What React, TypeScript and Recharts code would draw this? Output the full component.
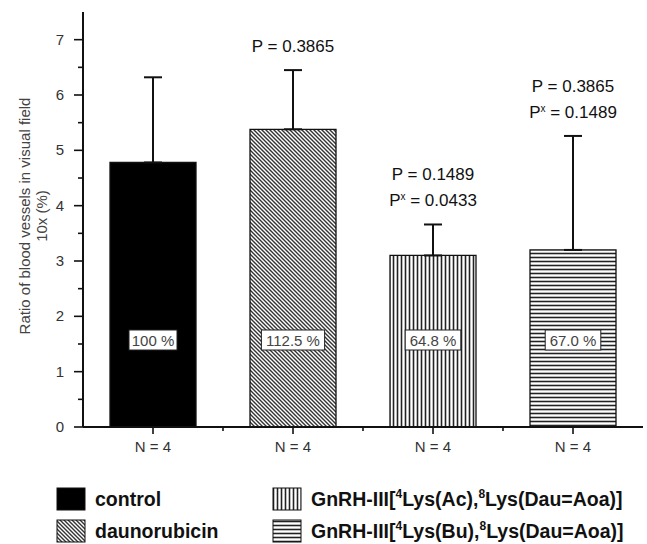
import React from 'react';
import { BarChart, Bar, XAxis, YAxis, ErrorBar, LabelList, Cell, Customized } from 'recharts';

const groupNames = [
  'control',
  'daunorubicin',
  'GnRH-III[^4Lys(Ac),^8Lys(Dau=Aoa)]',
  'GnRH-III[^4Lys(Bu),^8Lys(Dau=Aoa)]',
];
const groupPositions = [0.5, 1.5, 2.5, 3.5];
const meanRatio = [4.78, 5.38, 3.1, 3.2];
const errorUpper = [1.54, 1.07, 0.56, 2.06];
const percentLabels = ['100 %', '112.5 %', '64.8 %', '67.0 %'];
const sampleLabels = ['N = 4', 'N = 4', 'N = 4', 'N = 4'];
const pValueLines: string[][][] = [
  [],
  [['P', '0.3865']],
  [['P', '0.1489'], ['Px', '0.0433']],
  [['P', '0.3865'], ['Px', '0.1489']],
];
const yTicks = [0, 0.5, 1, 1.5, 2, 2.5, 3, 3.5, 4, 4.5, 5, 5.5, 6, 6.5, 7];
const xTicks = [0.5, 1, 1.5, 2, 2.5, 3, 3.5];
const yLabelLines = ['Ratio of blood vessels in visual field', '10x (%)'];

const FONT = '"Liberation Sans", Arial, sans-serif';
const FILLS = ['#000000', 'url(#hatchDiag)', 'url(#hatchVert)', 'url(#hatchHoriz)'];

const data = groupPositions.map((pos, i) => ({
  pos,
  mean: meanRatio[i],
  err: [0, errorUpper[i]],
  pct: percentLabels[i],
}));

const YTick = (props: any) => {
  const { x, y, payload } = props;
  const v = payload.value;
  const major = Number.isInteger(v);
  return (
    <g>
      <line x1={x - (major ? 9 : 5)} x2={x} y1={y} y2={y} stroke="#111" strokeWidth={1.6} />
      {major && (
        <text x={x - 19} y={y} dy={5} textAnchor="end" fontSize={15} fill="#333" fontFamily={FONT}>
          {v}
        </text>
      )}
    </g>
  );
};

const XTick = (props: any) => {
  const { x, y, payload } = props;
  const v = payload.value;
  const idx = groupPositions.indexOf(v);
  const major = idx >= 0;
  return (
    <g>
      <line x1={x} x2={x} y1={y} y2={y + (major ? 7 : 4)} stroke="#111" strokeWidth={1.6} />
      {major && (
        <text x={x} y={y + 25} textAnchor="middle" fontSize={15} fill="#333" fontFamily={FONT}>
          {sampleLabels[idx]}
        </text>
      )}
    </g>
  );
};

const getBox = (props: any) => {
  const vb = props.viewBox && props.viewBox.width !== undefined ? props.viewBox : props;
  return { x: Number(vb.x), y: Number(vb.y), width: Number(vb.width), height: Number(vb.height) };
};

const PLabel = (props: any) => {
  const { index } = props;
  const lines = pValueLines[index] || [];
  if (!lines.length) return null;
  const { x, y, width, height } = getBox(props);
  const perUnit = height / meanRatio[index];
  const errTop = y - errorUpper[index] * perUnit;
  const cx = x + width / 2;
  const last = errTop - 18;
  return (
    <g>
      {lines.map((ln, i) => (
        <text
          key={i}
          x={cx}
          y={last - (lines.length - 1 - i) * 26}
          textAnchor="middle"
          fontSize={17}
          fill="#111"
          fontFamily={FONT}
        >
          {ln[0] === 'Px' ? (
            <>
              <tspan>P</tspan>
              <tspan fontSize={10} dy={-6}>x</tspan>
              <tspan dy={6}>{` = ${ln[1]}`}</tspan>
            </>
          ) : (
            `P = ${ln[1]}`
          )}
        </text>
      ))}
    </g>
  );
};

const PctLabel = (props: any) => {
  const { index } = props;
  const { x, y, width, height } = getBox(props);
  const txt = percentLabels[index];
  const cx = x + width / 2;
  const cy = y + height - 87;
  const w = txt.length * 7.6 + 10;
  return (
    <g>
      <rect x={cx - w / 2} y={cy - 10} width={w} height={20} fill="#fff" stroke="#222" strokeWidth={1} />
      <text x={cx} y={cy + 5.5} textAnchor="middle" fontSize={15} fill="#444" fontFamily={FONT}>
        {txt}
      </text>
    </g>
  );
};

const renderName = (name: string) => {
  const parts = name.split(/\^(\d)/);
  const out: any[] = [];
  parts.forEach((p, i) => {
    if (i % 2 === 1) {
      out.push(
        <tspan key={i} fontSize={12} dy={-8}>
          {p}
        </tspan>
      );
    } else if (p) {
      out.push(
        <tspan key={i} dy={i > 0 ? 8 : 0}>
          {p}
        </tspan>
      );
    }
  });
  return out;
};

const LegendBlock = () => (
  <g>
    {groupNames.map((name, i) => {
      const col = i < 2 ? 0 : 1;
      const row = i % 2;
      const sx = col ? 273 : 57;
      const cy = 499 + row * 32;
      return (
        <g key={i}>
          <rect x={sx} y={cy - 11} width={28} height={22} fill={FILLS[i]} stroke="#111" strokeWidth={1} />
          <text x={sx + 38} y={cy + 7} fontSize={19.5} fontWeight="bold" fill="#111" fontFamily={FONT}>
            {renderName(name)}
          </text>
        </g>
      );
    })}
  </g>
);

const YAxisTitle = () => (
  <g>
    {yLabelLines.map((ln, i) => {
      const x = 26 + i * 17;
      const y = 216;
      return (
        <text
          key={i}
          x={x}
          y={y}
          transform={`rotate(-90 ${x} ${y})`}
          textAnchor="middle"
          dominantBaseline="middle"
          fontSize={15}
          fill="#444"
          fontFamily={FONT}
        >
          {ln}
        </text>
      );
    })}
  </g>
);

export default function App() {
  return (
    <div style={{ position: 'absolute', left: 0, top: 0, width: 647, height: 544, background: '#fff' }}>
      <svg width={0} height={0} style={{ position: 'absolute' }}>
        <defs>
          <pattern id="hatchDiag" width={4} height={4} patternUnits="userSpaceOnUse">
            <rect width={4} height={4} fill="#fff" />
            <path d="M-1,-1 L5,5 M-1,3 L1,5 M3,-1 L5,1" stroke="#333" strokeWidth={1.4} />
          </pattern>
          <pattern id="hatchVert" width={4} height={4} patternUnits="userSpaceOnUse">
            <rect width={4} height={4} fill="#fff" />
            <line x1={1.5} x2={1.5} y1={0} y2={4} stroke="#222" strokeWidth={1.6} />
          </pattern>
          <pattern id="hatchHoriz" width={4} height={4} patternUnits="userSpaceOnUse">
            <rect width={4} height={4} fill="#fff" />
            <line x1={0} x2={4} y1={1.5} y2={1.5} stroke="#222" strokeWidth={1.6} />
          </pattern>
        </defs>
      </svg>
      <BarChart
        width={647}
        height={544}
        data={data}
        margin={{ top: 12, right: 4, left: 0, bottom: 87 }}
      >
        <XAxis
          dataKey="pos"
          type="number"
          domain={[0, 4]}
          ticks={xTicks}
          interval={0}
          height={30}
          tickSize={0}
          tickMargin={0}
          tickLine={false}
          tick={<XTick />}
          axisLine={{ stroke: '#111', strokeWidth: 2 }}
          allowDecimals
        />
        <YAxis
          type="number"
          domain={[0, 7.5]}
          ticks={yTicks}
          interval={0}
          width={83}
          tickSize={0}
          tickMargin={0}
          tickLine={false}
          tick={<YTick />}
          axisLine={{ stroke: '#111', strokeWidth: 2 }}
          allowDecimals
        />
        <Bar dataKey="mean" barSize={86} isAnimationActive={false} stroke="#111" strokeWidth={1.3}>
          {data.map((d, i) => (
            <Cell key={i} fill={FILLS[i]} />
          ))}
          <ErrorBar dataKey="err" direction="y" width={9} stroke="#111" strokeWidth={2} isAnimationActive={false} />
          <LabelList dataKey="pct" content={<PctLabel />} />
          <LabelList dataKey="mean" content={<PLabel />} />
        </Bar>
        <Customized component={YAxisTitle} />
        <Customized component={LegendBlock} />
      </BarChart>
    </div>
  );
}
